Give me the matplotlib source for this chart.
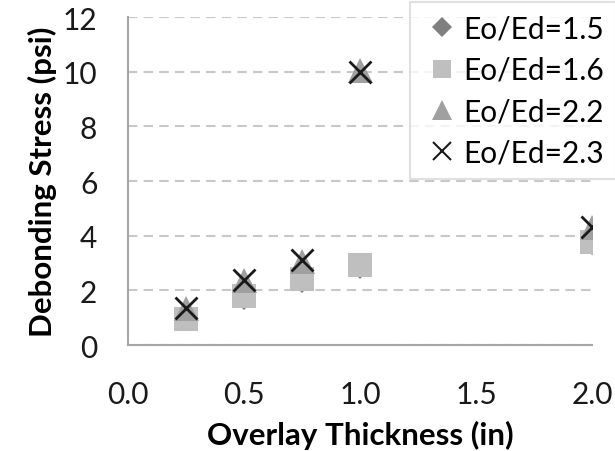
import matplotlib
matplotlib.use("Agg")
import matplotlib.pyplot as plt
from matplotlib.lines import Line2D

plt.rcParams['font.family'] = ['Lato', 'DejaVu Sans']

thickness = [0.25, 0.5, 0.75, 1.0, 2.0]
ratio_labels = ["Eo/Ed=1.5", "Eo/Ed=1.6", "Eo/Ed=2.2", "Eo/Ed=2.3"]
stress_15 = [0.94, 1.73, 2.36, 2.85, 3.72]
stress_16 = [0.96, 1.79, 2.40, 2.92, 3.78]
stress_22 = [1.37, 2.37, 3.07, 10.05, 4.32]
stress_23 = [1.35, 2.39, 3.11, 10.0, 4.33]
x_ticks = [0.0, 0.5, 1.0, 1.5, 2.0]
y_ticks = [0, 2, 4, 6, 8, 10, 12]

fig = plt.figure(figsize=(6.15, 4.52), dpi=100)
ax = fig.add_axes([0.208, 0.2345, 0.7545, 0.7255])

styles = [
    dict(marker='D', color='#7f7f7f', ms=12.5),
    dict(marker='s', color='#bfbfbf', ms=17),
    dict(marker='^', color='#a0a0a0', ms=18),
    dict(marker='x', color='#1a1a1a', ms=16.5, mew=2),
]
series = [stress_15, stress_16, stress_22, stress_23]
for vals, st in zip(series, styles):
    ax.plot(thickness, vals, linestyle='none', marker=st['marker'],
            color=st['color'], markersize=st['ms'],
            markeredgewidth=st.get('mew', 0), zorder=3)

ax.set_xlim(0, 2.0)
ax.set_ylim(0, 12)
ax.set_xticks(x_ticks)
ax.set_xticklabels([f"{v:.1f}" for v in x_ticks])
ax.set_yticks(y_ticks)
ax.tick_params(axis='both', length=0, labelsize=21.5, colors='#1a1a1a')
ax.tick_params(axis='y', pad=22)
ax.tick_params(axis='x', pad=25)

ax.grid(axis='y', color='#c8c8c8', linestyle=(0, (4.5, 3)), linewidth=1.5, zorder=0)
for side in ['top', 'right']:
    ax.spines[side].set_visible(False)
for side in ['left', 'bottom']:
    ax.spines[side].set_color('#a6a6a6')
    ax.spines[side].set_linewidth(1.5)

ax.set_xlabel("Overlay Thickness (in)", fontsize=22.5, fontweight='bold', labelpad=9)
ax.set_ylabel("Debonding Stress (psi)", fontsize=22.5, fontweight='bold', labelpad=4)

handles = [Line2D([], [], linestyle='none', marker=st['marker'], color=st['color'],
                  markersize=st['ms'] * 0.78, markeredgewidth=st.get('mew', 0) * 0.75)
           for st in styles]
leg = fig.legend(handles, ratio_labels, loc='upper left',
                 bbox_to_anchor=(410 / 615, 1 - 3 / 452), fontsize=21.5,
                 frameon=True, fancybox=False, handlelength=1.3,
                 handletextpad=0.05, labelspacing=0.45, borderpad=0.42,
                 borderaxespad=0)
leg.get_frame().set_edgecolor('#d9d9d9')
leg.get_frame().set_linewidth(1.5)

fig.savefig("out.png", dpi=100)
